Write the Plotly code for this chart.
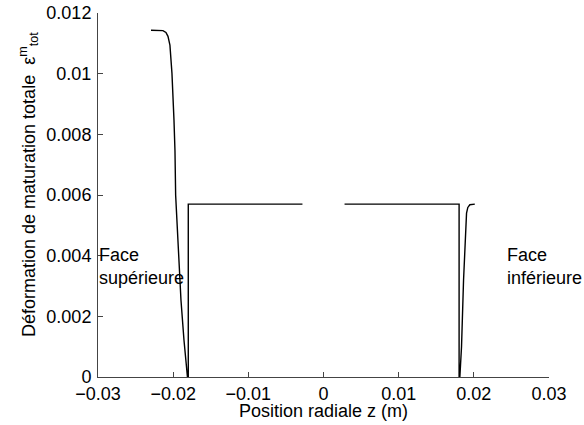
import plotly.graph_objects as go

# Radial position z (m) and total maturation strain
z_left = [-0.02295, -0.02136, -0.02096, -0.02069, -0.02043, -0.02016, -0.01989,
          -0.01976, -0.01967, -0.01919, -0.01896, -0.01856, -0.01830, -0.01810,
          -0.01799, -0.01799, -0.0028]
eps_left = [0.01143, 0.01142, 0.01136, 0.01123, 0.01094, 0.01001, 0.00846,
            0.00747, 0.00599, 0.00352, 0.00253, 0.00121, 0.00039, 0.0,
            0.0, 0.0057, 0.0057]
z_right = [0.0028, 0.01804, 0.01804, 0.01814, 0.01836, 0.01863, 0.01903,
           0.01920, 0.01947, 0.01987, 0.02013]
eps_right = [0.0057, 0.0057, 0.0, 0.0, 0.00099, 0.00319, 0.00540,
             0.00559, 0.00568, 0.0057, 0.0057]

x_ticks = [-0.03, -0.02, -0.01, 0, 0.01, 0.02, 0.03]
x_tick_labels = ["\u22120.03", "\u22120.02", "\u22120.01", "0", "0.01", "0.02", "0.03"]
y_ticks = [0, 0.002, 0.004, 0.006, 0.008, 0.01, 0.012]
y_tick_labels = ["0", "0.002", "0.004", "0.006", "0.008", "0.01", "0.012"]

FONT = "Liberation Sans, Arial, Helvetica, sans-serif"
FS = 18
AXC = "#444444"

fig = go.Figure()
fig.add_trace(go.Scatter(x=z_left + [None] + z_right,
                         y=eps_left + [None] + eps_right,
                         mode="lines", line=dict(color="black", width=1.4),
                         connectgaps=False, showlegend=False, hoverinfo="skip"))

fig.update_layout(
    width=584, height=425,
    margin=dict(l=98, r=35, t=13, b=48, autoexpand=False),
    paper_bgcolor="white", plot_bgcolor="white",
    font=dict(family=FONT, size=FS, color="black"),
    xaxis=dict(range=[-0.03, 0.03], tickvals=x_ticks, ticktext=x_tick_labels,
               showgrid=False, zeroline=False, showline=True, linecolor=AXC,
               linewidth=1, ticks="inside", ticklen=5, tickcolor=AXC, automargin=False,
               tickfont=dict(size=FS, family=FONT), ticklabelstandoff=0),
    yaxis=dict(range=[0, 0.012], tickvals=y_ticks, ticktext=y_tick_labels,
               showgrid=False, zeroline=False, showline=True, linecolor=AXC,
               linewidth=1, ticks="inside", ticklen=5, tickcolor=AXC, automargin=False,
               tickfont=dict(size=FS, family=FONT), ticklabelstandoff=2),
)

ann = []
# x-axis title
ann.append(dict(text="Position radiale z (m)", xref="paper", yref="paper",
                x=0.5, y=0, yshift=-34, xanchor="center", yanchor="middle",
                showarrow=False, font=dict(size=FS, family=FONT)))
# y-axis title
ann.append(dict(text="Déformation de maturation totale  ε<sup>m</sup><sub>tot</sub>",
                xref="paper", yref="paper",
                x=0, y=0.5, xshift=-70, yshift=10, xanchor="center", yanchor="middle",
                textangle=-90, showarrow=False, font=dict(size=FS, family=FONT)))
# face labels
ann.append(dict(text="Face<br>supérieure", x=-0.03, y=0.00363, xref="x", yref="y",
                xanchor="left", yanchor="middle", align="left", showarrow=False,
                font=dict(size=FS, family=FONT), borderpad=0))
ann.append(dict(text="Face<br>inférieure", x=0.02426, y=0.00363, xref="x", yref="y",
                xanchor="left", yanchor="middle", align="left", showarrow=False,
                font=dict(size=FS, family=FONT), borderpad=0))
fig.update_layout(annotations=ann)

fig.write_html("out.html", config={"displayModeBar": False},
               post_script="document.body.style.margin='0';document.body.style.padding='0';")
